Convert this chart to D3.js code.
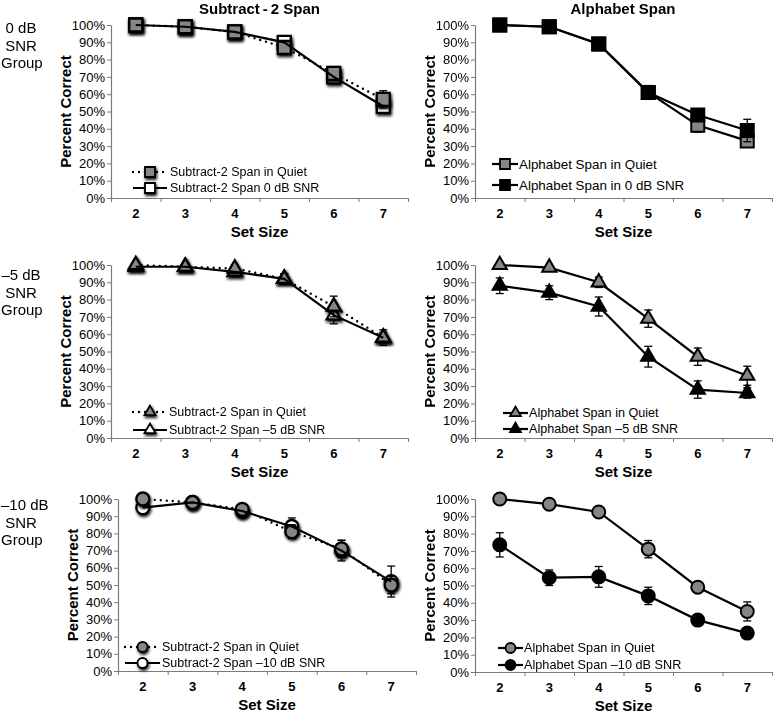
<!DOCTYPE html>
<html><head><meta charset="utf-8">
<script src="https://cdn.jsdelivr.net/npm/d3@7"></script>
<style>
html,body{margin:0;padding:0;background:#fff;}
svg{display:block;font-family:"Liberation Sans",Arial,Helvetica,sans-serif;}
</style></head>
<body><svg id="chart" width="774" height="713"></svg>
<script>
// ---------- DATA ----------
const setSizes = [2, 3, 4, 5, 6, 7];
const yTickValues = [0, 10, 20, 30, 40, 50, 60, 70, 80, 90, 100];
const columnTitles = ["Subtract\u2009-\u20092 Span", "Alphabet Span"];
const rowLabels = [["0 dB", "SNR", "Group"], ["\u20135 dB", "SNR", "Group"], ["\u201310 dB", "SNR", "Group"]];
const xAxisTitle = "Set Size";
const yAxisTitle = "Percent Correct";

// Row 1: 0 dB SNR group
const sub0Quiet = [100, 99, 96, 87, 72, 57];
const sub0QuietErr = [0.5, 1, 1.5, 3, 4, 5];
const sub0Snr = [100, 99, 96, 90, 70, 53];
const sub0SnrErr = [0.5, 1, 2, 2.5, 3, 3];
const alpha0Quiet = [100, 99, 89, 61, 42, 33];
const alpha0QuietErr = [1, 1, 2, 4, 4, 3];
const alpha0Snr = [100, 99, 89, 61, 48, 39];
const alpha0SnrErr = [1, 1, 2, 3, 3, 6.5];

// Row 2: -5 dB SNR group
const subM5Quiet = [100, 99, 98, 92, 76, 58];
const subM5QuietErr = [1, 1, 2, 3, 6, 4.5];
const subM5Snr = [99, 99, 96, 92, 71, 58];
const subM5SnrErr = [1, 1, 2, 3, 5, 3];
const alphaM5Quiet = [100, 98.5, 90, 69, 47, 36];
const alphaM5QuietErr = [1, 1, 3, 5, 5, 5.5];
const alphaM5Snr = [88, 84, 76, 47, 28, 26];
const alphaM5SnrErr = [4.5, 4, 5.5, 6, 5, 3];

// Row 3: -10 dB SNR group
const subM10Quiet = [100, 98, 94, 81, 71, 50];
const subM10QuietErr = [1, 1, 2, 4, 5, 5];
const subM10Snr = [95, 98, 93, 84, 70, 52];
const subM10SnrErr = [3, 1, 2, 5, 6, 9];
const alphaM10Quiet = [100, 97, 92.5, 71, 49, 35];
const alphaM10QuietErr = [1, 1, 1.5, 5, 2, 5.5];
const alphaM10Snr = [73.5, 54.5, 55, 44, 30, 22.5];
const alphaM10SnrErr = [7, 4.5, 6, 5, 2, 2];

// Legend labels
const legendLabels = [
  ["Subtract-2 Span in Quiet", "Subtract-2 Span 0 dB SNR"],
  ["Alphabet Span in Quiet", "Alphabet Span in 0 dB SNR"],
  ["Subtract-2 Span in Quiet", "Subtract-2 Span \u20135 dB SNR"],
  ["Alphabet Span in Quiet", "Alphabet Span \u20135 dB SNR"],
  ["Subtract-2 Span in Quiet", "Subtract-2 Span \u201310 dB SNR"],
  ["Alphabet Span in Quiet", "Alphabet Span \u201310 dB SNR"]
];

// ---------- DRAW ----------
const svg = d3.select("#chart");
const FONT = '"Liberation Sans",Arial,Helvetica,sans-serif';
const GRAY = "#868686";
const AXIS = "#7a7a7a";

const defs = svg.append("defs");
const f = defs.append("filter").attr("id", "shadow").attr("x", "-60%").attr("y", "-60%").attr("width", "220%").attr("height", "220%");
f.append("feGaussianBlur").attr("in", "SourceAlpha").attr("stdDeviation", 1.5).attr("result", "b");
f.append("feOffset").attr("in", "b").attr("dx", 1.2).attr("dy", 1.8).attr("result", "o");
f.append("feComponentTransfer").attr("in", "o").attr("result", "o2")
  .append("feFuncA").attr("type", "linear").attr("slope", 0.95);
const m = f.append("feMerge");
m.append("feMergeNode").attr("in", "o2");
m.append("feMergeNode").attr("in", "SourceGraphic");

const shapes = { square: d3.symbolSquare, triangle: d3.symbolTriangle, circle: d3.symbolCircle };
function symSize(shape, s) {
  if (shape === "square") return s * s;
  if (shape === "triangle") return Math.sqrt(3) / 4 * s * s * 1.2;
  return Math.PI * (s / 2) * (s / 2);
}

// drawOrder: index order in which the two series are painted (last = on top)
const panels = [
  { x0: 111, x1: 408, yt: 25, yb: 198, shadow: true, shape: "square", legendFont: 12.5, drawOrder: [1, 0],
    leg: { x0: 133, x1: 167, tx: 170, y: [172, 188] },
    series: [
      { v: sub0Quiet, e: sub0QuietErr, fill: GRAY, dotted: true },
      { v: sub0Snr, e: sub0SnrErr, fill: "#fff", dotted: false }] },
  { x0: 475, x1: 772, yt: 25, yb: 198, shadow: false, shape: "square", legendFont: 13.4, drawOrder: [0, 1],
    leg: { x0: 492, x1: 518, tx: 519, y: [164, 185] },
    series: [
      { v: alpha0Quiet, e: alpha0QuietErr, fill: GRAY, dotted: false },
      { v: alpha0Snr, e: alpha0SnrErr, fill: "#000", dotted: false }] },
  { x0: 111, x1: 408, yt: 265, yb: 438, shadow: true, shape: "triangle", legendFont: 12.5, drawOrder: [1, 0],
    leg: { x0: 133, x1: 167, tx: 169, y: [412, 430] },
    series: [
      { v: subM5Quiet, e: subM5QuietErr, fill: GRAY, dotted: true },
      { v: subM5Snr, e: subM5SnrErr, fill: "#fff", dotted: false }] },
  { x0: 475, x1: 772, yt: 265, yb: 438, shadow: false, shape: "triangle", legendFont: 12.6, drawOrder: [0, 1],
    leg: { x0: 503, x1: 528, tx: 529, y: [413, 429] },
    series: [
      { v: alphaM5Quiet, e: alphaM5QuietErr, fill: GRAY, dotted: false },
      { v: alphaM5Snr, e: alphaM5SnrErr, fill: "#000", dotted: false }] },
  { x0: 118, x1: 416, yt: 499, yb: 671, shadow: true, shape: "circle", legendFont: 12.5, drawOrder: [1, 0],
    leg: { x0: 125, x1: 160, tx: 162, y: [647, 663] },
    series: [
      { v: subM10Quiet, e: subM10QuietErr, fill: GRAY, dotted: true },
      { v: subM10Snr, e: subM10SnrErr, fill: "#fff", dotted: false }] },
  { x0: 475, x1: 772, yt: 499, yb: 672, shadow: false, shape: "circle", legendFont: 12.7, drawOrder: [0, 1],
    leg: { x0: 498, x1: 523, tx: 524, y: [648, 665] },
    series: [
      { v: alphaM10Quiet, e: alphaM10QuietErr, fill: GRAY, dotted: false },
      { v: alphaM10Snr, e: alphaM10SnrErr, fill: "#000", dotted: false }] }
];

panels.forEach((p, pi) => {
  const x = d3.scaleLinear().domain([1.5, 7.5]).range([p.x0, p.x1]);
  const y = d3.scaleLinear().domain([0, 100]).range([p.yb, p.yt]);
  const g = svg.append("g");

  // Y axis
  const ya = g.append("g").attr("transform", `translate(${p.x0},0)`)
    .call(d3.axisLeft(y).tickValues(yTickValues).tickFormat(d => d + "%").tickSize(4).tickPadding(2).tickSizeOuter(0));
  ya.select(".domain").attr("stroke", AXIS).attr("stroke-width", 1.2);
  ya.selectAll(".tick line").attr("stroke", AXIS);
  ya.selectAll(".tick text").attr("font-size", 13).attr("font-family", FONT).attr("fill", "#000");

  // X axis (ticks at category boundaries)
  const xa = g.append("g").attr("transform", `translate(0,${p.yb})`)
    .call(d3.axisBottom(x).tickValues(d3.range(1.5, 8, 1)).tickFormat("").tickSize(4).tickSizeOuter(0));
  xa.select(".domain").attr("stroke", AXIS).attr("stroke-width", 1.2);
  xa.selectAll(".tick line").attr("stroke", AXIS);
  g.selectAll(".xl").data(setSizes).join("text")
    .attr("x", d => x(d)).attr("y", p.yb + 20).attr("text-anchor", "middle")
    .attr("font-size", 13).attr("font-weight", "bold").attr("font-family", FONT).text(d => d);

  // Axis titles
  g.append("text").attr("x", (p.x0 + p.x1) / 2).attr("y", p.yb + 38.5).attr("text-anchor", "middle")
    .attr("font-size", 15).attr("font-weight", "bold").attr("font-family", FONT).text(xAxisTitle);
  const ytx = p.x0 - 40;
  g.append("text").attr("transform", `translate(${ytx},${(p.yt + p.yb) / 2}) rotate(-90)`)
    .attr("text-anchor", "middle").attr("font-size", 15).attr("font-weight", "bold").attr("font-family", FONT).text(yAxisTitle);

  const sym = d3.symbol().type(shapes[p.shape]).size(symSize(p.shape, 13));
  const line = d3.line().x((d, i) => x(setSizes[i])).y(d => y(d));
  const drawLine = (parent, s) => {
    const path = parent.append("path").datum(s.v).attr("d", line).attr("fill", "none").attr("stroke", "#000");
    if (s.dotted) path.attr("stroke-width", 2.4).attr("stroke-dasharray", "0,6").attr("stroke-linecap", "round");
    else path.attr("stroke-width", 2.2);
  };

  p.drawOrder.forEach(si => {
    const s = p.series[si];
    const sg = g.append("g");
    // error bars
    const eb = sg.append("g").attr("stroke", "#000").attr("stroke-width", 1.3);
    setSizes.forEach((k, i) => {
      const cx = x(k), top = y(s.v[i] + s.e[i]), bot = y(s.v[i] - s.e[i]);
      eb.append("line").attr("x1", cx).attr("x2", cx).attr("y1", top).attr("y2", bot);
      eb.append("line").attr("x1", cx - 4).attr("x2", cx + 4).attr("y1", top).attr("y2", top);
      eb.append("line").attr("x1", cx - 4).attr("x2", cx + 4).attr("y1", bot).attr("y2", bot);
    });
    // line (in shadowed panels the solid line is painted over all markers)
    if (!(p.shadow && !s.dotted)) drawLine(sg, s);
    // markers
    const mk = sg.append("g");
    if (p.shadow) mk.attr("filter", "url(#shadow)");
    mk.selectAll("path").data(s.v).join("path")
      .attr("transform", (d, i) => `translate(${x(setSizes[i])},${y(d)})`)
      .attr("d", sym).attr("fill", s.fill).attr("stroke", "#000").attr("stroke-width", p.shadow ? 2.3 : 2);
  });
  if (p.shadow) p.series.filter(s => !s.dotted).forEach(s => drawLine(g, s));

  // Legend
  const lsym = d3.symbol().type(shapes[p.shape]).size(symSize(p.shape, 10));
  p.series.forEach((s, si) => {
    const ly = p.leg.y[si];
    const lp = g.append("line").attr("x1", p.leg.x0).attr("x2", p.leg.x1).attr("y1", ly).attr("y2", ly).attr("stroke", "#000");
    if (s.dotted) lp.attr("stroke-width", 2.4).attr("stroke-dasharray", "0,6").attr("stroke-linecap", "round");
    else lp.attr("stroke-width", 2.2);
    const lm = g.append("path").attr("transform", `translate(${(p.leg.x0 + p.leg.x1) / 2},${ly})`)
      .attr("d", lsym).attr("fill", s.fill).attr("stroke", "#000").attr("stroke-width", 1.8);
    if (p.shadow) lm.attr("filter", "url(#shadow)");
    g.append("text").attr("x", p.leg.tx).attr("y", ly).attr("dy", "0.35em")
      .attr("font-size", p.legendFont).attr("font-family", FONT).text(legendLabels[pi][si]);
  });
});

// Column titles
[[259.5, 0], [623, 1]].forEach(([cx, i]) => {
  svg.append("text").attr("x", cx).attr("y", 14).attr("text-anchor", "middle")
    .attr("font-size", 15).attr("font-weight", "bold").attr("font-family", FONT).text(columnTitles[i]);
});

// Row labels (centred at x=21, nudged right if they would cross the left edge)
const rowBase = [33, 280, 510];
rowLabels.forEach((lines, r) => {
  lines.forEach((t, j) => {
    const tx = svg.append("text").attr("x", 21).attr("y", rowBase[r] + j * 17.5).attr("text-anchor", "middle")
      .attr("font-size", 15).attr("font-family", FONT).text(t);
    const w = tx.node().getComputedTextLength();
    if (21 - w / 2 < 1) tx.attr("x", w / 2 + 1);
  });
});
</script></body></html>
